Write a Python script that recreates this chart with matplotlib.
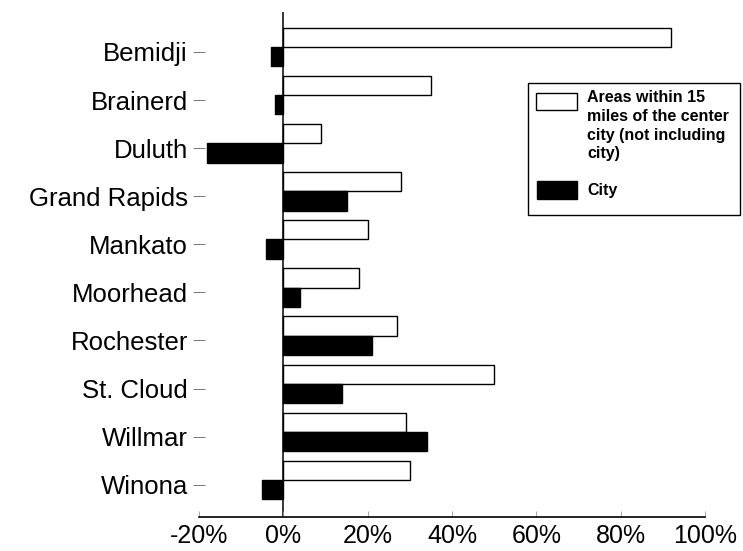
import matplotlib
matplotlib.use("Agg")
import matplotlib.pyplot as plt
from matplotlib.patches import Rectangle
import numpy as np

plt.rcParams['font.family'] = ['Liberation Sans', 'DejaVu Sans']

cities = ["Bemidji", "Brainerd", "Duluth", "Grand Rapids", "Mankato",
          "Moorhead", "Rochester", "St. Cloud", "Willmar", "Winona"]
areas_15mi = [92, 35, 9, 28, 20, 18, 27, 50, 29, 30]
city_vals = [-3, -2, -18, 15, -4, 4, 21, 14, 34, -5]
xticks = [-20, 0, 20, 40, 60, 80, 100]
xtick_labels = ["-20%", "0%", "20%", "40%", "60%", "80%", "100%"]
legend_lines = ["Areas within 15", "miles of the center", "city (not including", "city)"]
legend_city = "City"

W, H = 743, 551
fig = plt.figure(figsize=(W / 100, H / 100), dpi=100)
ax = fig.add_axes([199 / W, 1 - 517 / H, (705 - 199) / W, (517 - 12) / H])

y = np.arange(len(cities))
h = 0.4
ax.barh(y - h / 2, areas_15mi, height=h, color="white", edgecolor="black", linewidth=1.0)
ax.barh(y + h / 2, city_vals, height=h, color="black", edgecolor="black", linewidth=1.0)
ax.axvline(0, color="black", linewidth=1.1, zorder=0)

ax.set_xlim(-20, 100)
ax.set_ylim(9.77, -0.73)
ax.set_yticks(y + 0.1)
ax.set_yticklabels(cities, fontsize=18.5)
ax.set_xticks(xticks)
ax.set_xticklabels(xtick_labels, fontsize=18)
ax.tick_params(axis="y", direction="inout", length=8, width=0.7, color="#777777", pad=4)
ax.tick_params(axis="x", direction="in", length=4, width=0.6, color="#999999", pad=5)
for s in ["top", "right", "left"]:
    ax.spines[s].set_visible(False)
ax.spines["bottom"].set_linewidth(1.2)


def fx(px):
    return px / W


def fy(py):
    return 1 - py / H


# legend frame and handles
fig.patches.append(Rectangle((fx(528), fy(215)), fx(740) - fx(528), fy(83) - fy(215),
                             transform=fig.transFigure, facecolor="white",
                             edgecolor="black", linewidth=1.0, zorder=5))
fig.patches.append(Rectangle((fx(536), fy(110)), fx(577) - fx(536), fy(93) - fy(110),
                             transform=fig.transFigure, facecolor="white",
                             edgecolor="black", linewidth=1.0, zorder=6))
fig.patches.append(Rectangle((fx(537), fy(199)), fx(577) - fx(537), fy(181) - fy(199),
                             transform=fig.transFigure, facecolor="black",
                             edgecolor="black", linewidth=1.0, zorder=6))
baselines = [102, 121, 140, 158]
for line, b in zip(legend_lines, baselines):
    fig.text(fx(587), fy(b), line, fontsize=11.5, fontweight="bold",
             va="baseline", ha="left", zorder=7)
fig.text(fx(587), fy(195), legend_city, fontsize=11.5, fontweight="bold",
         va="baseline", ha="left", zorder=7)

fig.savefig("out.png", dpi=100)
